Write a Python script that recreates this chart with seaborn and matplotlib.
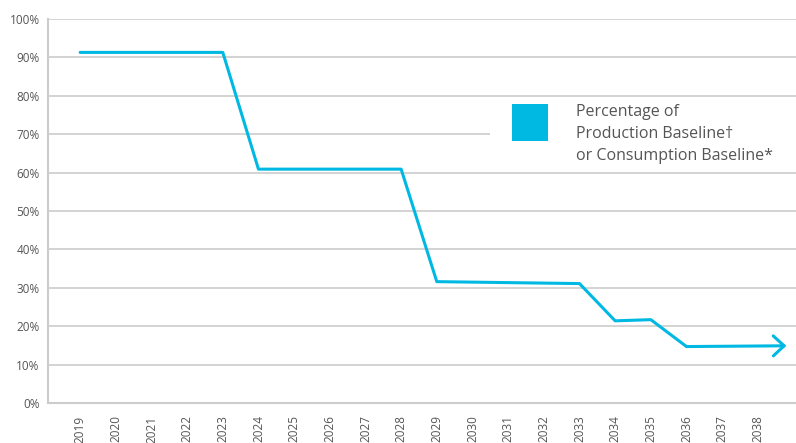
import matplotlib
matplotlib.use("Agg")
import matplotlib.pyplot as plt
from matplotlib.patches import Rectangle
import numpy as np
import pandas as pd
import seaborn as sns

# phase-down schedule (last point is the arrow tip)
step_years = [2019, 2023, 2024, 2028, 2029, 2033, 2034, 2035, 2036, 2038.8]
step_pct = [91.3, 91.3, 60.9, 60.9, 31.6, 31.1, 21.4, 21.7, 14.7, 14.9]
tick_years = list(range(2019, 2039))
pct_ticks = list(range(0, 101, 10))
legend_label = "Percentage of\nProduction Baseline\u2020\nor Consumption Baseline*"

LINE = "#00B9E3"
GRID = "#CCCCCC"
TEXT = "#555555"

sns.set_theme(style="white")
plt.rcParams["font.family"] = ["Open Sans", "DejaVu Sans"]

df = pd.DataFrame({"year": step_years, "pct": step_pct})

W, H = 796, 443
fig = plt.figure(figsize=(W / 100, H / 100), dpi=100)
ax = fig.add_axes([48 / W, 40 / H, 748 / W, 384 / H])

sns.lineplot(data=df.iloc[:-1], x="year", y="pct", color=LINE, linewidth=2.2,
             sort=False, ax=ax, legend=False)
# open arrow on the last segment
ax.annotate("", xy=(df.year.iloc[-1], df.pct.iloc[-1]),
            xytext=(df.year.iloc[-2], df.pct.iloc[-2]),
            arrowprops=dict(arrowstyle="->,head_length=0.65,head_width=0.6",
                            color=LINE, lw=2.2, shrinkA=0, shrinkB=0))

ax.set_xlim(2018.1, 2039.07)
ax.set_ylim(0, 100)
ax.set_yticks(pct_ticks)
ax.set_yticklabels([f"{p}%" for p in pct_ticks])
ax.set_xticks(tick_years)
ax.set_xticklabels([str(y) for y in tick_years], rotation=90)
ax.tick_params(axis="both", colors=TEXT, labelsize=8.5, length=0, pad=6)
ax.tick_params(axis="x", pad=9)
ax.set_xlabel("")
ax.set_ylabel("")

ax.yaxis.grid(True, color=GRID, linewidth=1.2)
ax.set_axisbelow(True)
for side in ["top", "right"]:
    ax.spines[side].set_visible(False)
for side in ["left", "bottom"]:
    ax.spines[side].set_color(GRID)
    ax.spines[side].set_linewidth(1.5)


# legend block, placed in figure pixels (from the top-left corner)
def fx(px):
    return px / W


def fy(py):
    return 1 - py / H


fig.patches.append(Rectangle((fx(490), fy(170)), fx(796) - fx(490), fy(99) - fy(170),
                             transform=fig.transFigure, facecolor="white",
                             edgecolor="none", zorder=3))
fig.patches.append(Rectangle((fx(512), fy(141)), fx(548) - fx(512), fy(104) - fy(141),
                             transform=fig.transFigure, facecolor=LINE,
                             edgecolor="none", zorder=4))
fig.text(fx(576), fy(104), legend_label, ha="left", va="top", fontsize=11.5,
         color=TEXT, linespacing=1.5, zorder=5)

fig.savefig("out.png", dpi=100)
